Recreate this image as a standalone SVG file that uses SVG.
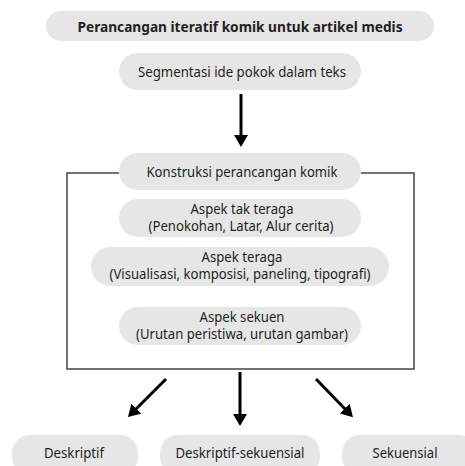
<svg xmlns="http://www.w3.org/2000/svg" width="465" height="466" viewBox="0 0 465 466">
<style>
.pill{fill:#e6e6e6;}
text{font-family:"Noto Sans","Open Sans","Liberation Sans",sans-serif;font-size:13.5px;fill:#231f20;text-anchor:middle;}
.b{font-weight:bold;}
.arr{stroke:#000;stroke-width:3;fill:none;}
.frame{stroke:#444;stroke-width:1.5;fill:none;}
</style>
<defs>
<marker id="ah" markerUnits="userSpaceOnUse" markerWidth="12" markerHeight="14" refX="2" refY="7" orient="auto" viewBox="0 0 12 14">
<path d="M0,0 L12,7 L0,14 z" fill="#000"/>
</marker>
</defs>
<rect width="465" height="466" fill="#fff"/>
<g id="connectors">
<polyline class="frame" points="119,173 67,173 67,369 414,369 414,173 361,173"/>
<line class="arr" x1="241" y1="94" x2="241" y2="137" marker-end="url(#ah)"/>
<line class="arr" x1="166" y1="379" x2="135" y2="410" marker-end="url(#ah)"/>
<line class="arr" x1="240" y1="372" x2="240" y2="416" marker-end="url(#ah)"/>
<line class="arr" x1="316" y1="379" x2="346" y2="410" marker-end="url(#ah)"/>
</g>
<g id="title">
<rect class="pill" x="46" y="11" width="388" height="30" rx="15"/>
<text class="b" x="240" y="31.5" textLength="325" lengthAdjust="spacingAndGlyphs">Perancangan iteratif komik untuk artikel medis</text>
</g>
<g id="segmentasi">
<rect class="pill" x="119" y="53" width="242" height="37" rx="18.5"/>
<text x="242" y="77" textLength="208" lengthAdjust="spacingAndGlyphs">Segmentasi ide pokok dalam teks</text>
</g>
<g id="konstruksi">
<rect class="pill" x="119" y="153" width="242" height="37" rx="18.5"/>
<text x="242" y="177" textLength="191" lengthAdjust="spacingAndGlyphs">Konstruksi perancangan komik</text>
</g>
<g id="tak-teraga">
<rect class="pill" x="119" y="199" width="242" height="38" rx="19"/>
<text x="242" y="214" textLength="103" lengthAdjust="spacingAndGlyphs">Aspek tak teraga</text>
<text x="241" y="231" textLength="185" lengthAdjust="spacingAndGlyphs">(Penokohan, Latar, Alur cerita)</text>
</g>
<g id="teraga">
<rect class="pill" x="91" y="247" width="298" height="39" rx="19.5"/>
<text x="242" y="262" textLength="81" lengthAdjust="spacingAndGlyphs">Aspek teraga</text>
<text x="240" y="279" textLength="261" lengthAdjust="spacingAndGlyphs">(Visualisasi, komposisi, paneling, tipografi)</text>
</g>
<g id="sekuen">
<rect class="pill" x="119" y="307" width="242" height="38" rx="19"/>
<text x="242" y="322" textLength="85" lengthAdjust="spacingAndGlyphs">Aspek sekuen</text>
<text x="242" y="339" textLength="212" lengthAdjust="spacingAndGlyphs">(Urutan peristiwa, urutan gambar)</text>
</g>
<g id="deskriptif">
<rect class="pill" x="12" y="435" width="126" height="40" rx="18"/>
<text x="74" y="458" textLength="60" lengthAdjust="spacingAndGlyphs">Deskriptif</text>
</g>
<g id="deskriptif-sekuensial">
<rect class="pill" x="160" y="435" width="160" height="40" rx="18"/>
<text x="240" y="458" textLength="129" lengthAdjust="spacingAndGlyphs">Deskriptif-sekuensial</text>
</g>
<g id="sekuensial">
<rect class="pill" x="342" y="435" width="135" height="40" rx="18"/>
<text x="405" y="458" textLength="65" lengthAdjust="spacingAndGlyphs">Sekuensial</text>
</g>
</svg>
